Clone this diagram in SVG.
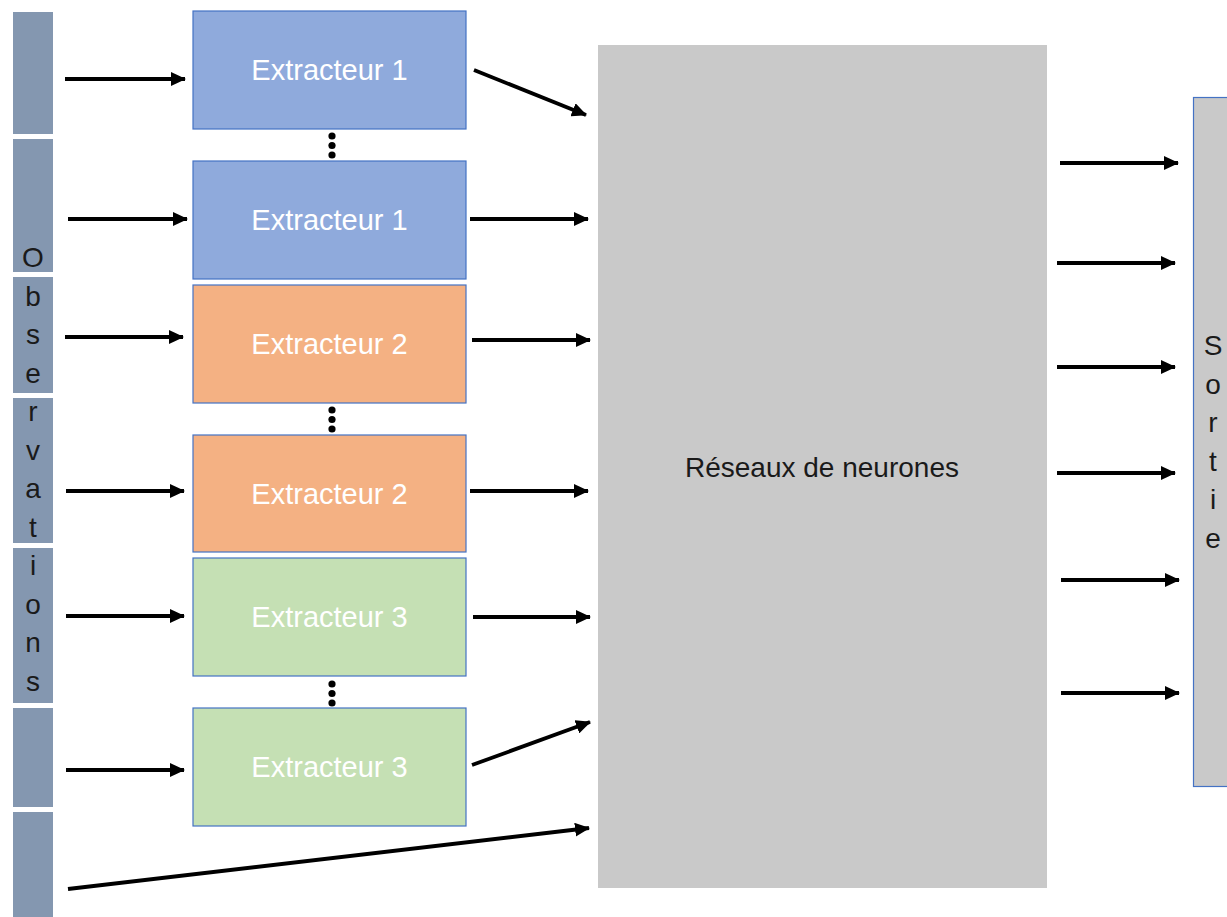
<svg xmlns="http://www.w3.org/2000/svg" width="1227" height="917" viewBox="0 0 1227 917">
<style>
.obs{fill:#8497B0}
.ext{stroke:#4472C4;stroke-width:1.2}
.b1{fill:#8FAADC}
.b2{fill:#F4B183}
.b3{fill:#C5E0B4}
.lbl{font-family:"Liberation Sans",Arial,sans-serif;font-size:29px;fill:#FFFFFF;text-anchor:middle}
.let{font-family:"Liberation Sans",Arial,sans-serif;font-size:28px;fill:#1a1a1a;text-anchor:middle}
.nn{font-family:"Liberation Sans",Arial,sans-serif;font-size:28px;fill:#1a1a1a;text-anchor:middle}
.arr{stroke:#000;stroke-width:3.8;fill:none;marker-end:url(#ah)}
.dot{fill:#000}
</style>
<defs>
<marker id="ah" markerUnits="userSpaceOnUse" markerWidth="15" markerHeight="14" refX="14" refY="7" orient="auto">
<path d="M0,0 L15,7 L0,14 Z" fill="#000"/>
</marker>
</defs>
<rect width="1227" height="917" fill="#FFFFFF"/>
<g id="observations">
<rect class="obs" x="13" y="12" width="40" height="122"/>
<rect class="obs" x="13" y="139" width="40" height="133"/>
<rect class="obs" x="13" y="277" width="40" height="116"/>
<rect class="obs" x="13" y="398" width="40" height="145"/>
<rect class="obs" x="13" y="548" width="40" height="155"/>
<rect class="obs" x="13" y="708" width="40" height="99"/>
<rect class="obs" x="13" y="812" width="40" height="110"/>
<text class="let" x="33" y="267">O</text>
<text class="let" x="33" y="305.5">b</text>
<text class="let" x="33" y="344">s</text>
<text class="let" x="33" y="382.5">e</text>
<text class="let" x="33" y="421">r</text>
<text class="let" x="33" y="459.5">v</text>
<text class="let" x="33" y="498">a</text>
<text class="let" x="33" y="536.5">t</text>
<text class="let" x="33" y="575">i</text>
<text class="let" x="33" y="613.5">o</text>
<text class="let" x="33" y="652">n</text>
<text class="let" x="33" y="690.5">s</text>
</g>
<g id="ext1a"><rect class="ext b1" x="193" y="11" width="273" height="118"/><text class="lbl" x="329.5" y="80">Extracteur 1</text></g>
<g id="ext1b"><rect class="ext b1" x="193" y="161" width="273" height="118"/><text class="lbl" x="329.5" y="230">Extracteur 1</text></g>
<g id="ext2a"><rect class="ext b2" x="193" y="285" width="273" height="118"/><text class="lbl" x="329.5" y="354">Extracteur 2</text></g>
<g id="ext2b"><rect class="ext b2" x="193" y="435" width="273" height="117"/><text class="lbl" x="329.5" y="504">Extracteur 2</text></g>
<g id="ext3a"><rect class="ext b3" x="193" y="558" width="273" height="118"/><text class="lbl" x="329.5" y="627">Extracteur 3</text></g>
<g id="ext3b"><rect class="ext b3" x="193" y="708" width="273" height="118"/><text class="lbl" x="329.5" y="777">Extracteur 3</text></g>
<g id="dots">
<circle class="dot" cx="332" cy="136" r="3.6"/><circle class="dot" cx="332" cy="145.5" r="3.6"/><circle class="dot" cx="332" cy="155" r="3.6"/>
<circle class="dot" cx="332" cy="410" r="3.6"/><circle class="dot" cx="332" cy="419.5" r="3.6"/><circle class="dot" cx="332" cy="429" r="3.6"/>
<circle class="dot" cx="332" cy="684" r="3.6"/><circle class="dot" cx="332" cy="693.5" r="3.6"/><circle class="dot" cx="332" cy="703" r="3.6"/>
</g>
<g id="reseau"><rect x="598" y="45" width="449" height="843" fill="#C9C9C9"/><text class="nn" x="822" y="477">Réseaux de neurones</text></g>
<g id="sortie">
<rect x="1193.5" y="97.5" width="40" height="689" fill="#C9C9C9" stroke="#4472C4" stroke-width="1.2"/>
<text class="let" x="1213" y="355">S</text>
<text class="let" x="1213" y="393.5">o</text>
<text class="let" x="1213" y="432">r</text>
<text class="let" x="1213" y="470.5">t</text>
<text class="let" x="1213" y="509">i</text>
<text class="let" x="1213" y="547.5">e</text>
</g>
<g id="connectors">
<line class="arr" x1="65" y1="79" x2="185" y2="79"/>
<line class="arr" x1="68" y1="219" x2="187" y2="219"/>
<line class="arr" x1="65" y1="337" x2="183" y2="337"/>
<line class="arr" x1="66" y1="491" x2="184" y2="491"/>
<line class="arr" x1="66" y1="616" x2="184" y2="616"/>
<line class="arr" x1="66" y1="770" x2="184" y2="770"/>
<line class="arr" x1="68" y1="889" x2="589" y2="828"/>
<line class="arr" x1="474" y1="70" x2="586" y2="115"/>
<line class="arr" x1="470" y1="219" x2="588" y2="219"/>
<line class="arr" x1="472" y1="340" x2="590" y2="340"/>
<line class="arr" x1="470" y1="491" x2="588" y2="491"/>
<line class="arr" x1="473" y1="617" x2="590" y2="617"/>
<line class="arr" x1="472" y1="765" x2="590" y2="722"/>
<line class="arr" x1="1060" y1="163" x2="1178" y2="163"/>
<line class="arr" x1="1057" y1="263" x2="1175" y2="263"/>
<line class="arr" x1="1057" y1="367" x2="1175" y2="367"/>
<line class="arr" x1="1057" y1="473" x2="1175" y2="473"/>
<line class="arr" x1="1061" y1="580" x2="1179" y2="580"/>
<line class="arr" x1="1061" y1="693" x2="1179" y2="693"/>
</g>
</svg>
